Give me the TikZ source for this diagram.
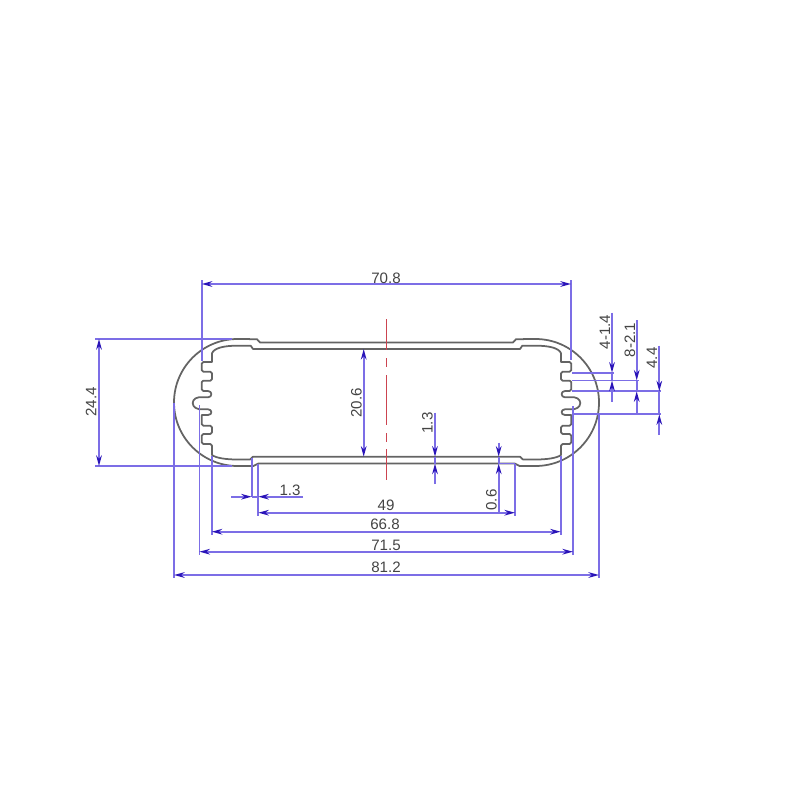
\documentclass[tikz,border=0pt]{standalone}
\usepackage{fontspec}
\setmainfont{Liberation Sans}
\usetikzlibrary{arrows.meta}
\definecolor{dimline}{HTML}{7C6EE6}
\definecolor{dimtip}{HTML}{2A14B8}
\definecolor{profile}{HTML}{646464}
\definecolor{dimtext}{HTML}{444444}
\definecolor{axisred}{HTML}{CC4450}
\tikzset{
  ext/.style={draw=dimline,line width=1pt},
  dimarrow/.style={draw=dimline,line width=1pt,
    {Stealth[length=6pt,width=3.2pt,color=dimtip]}-{Stealth[length=6pt,width=3.2pt,color=dimtip]}},
  tipdown/.style={draw=dimline,line width=1pt,-{Stealth[length=6pt,width=3.2pt,color=dimtip]}},
  prof/.style={draw=profile,line width=1pt,line join=round},
  axisline/.style={draw=axisred,line width=0.8pt},
  dimlabel/.style={text=dimtext,font=\fontsize{8.6}{10}\selectfont,inner sep=0pt},
  dimlabelv/.style={dimlabel,rotate=90}
}
\newcommand{\halfprofile}{%
  \draw[prof] (386.5,342.5) -- (260,342.5) -- (257,339.2) -- (237.5,339)
    .. controls (202.4,339) and (174,367.5) .. (174,402.5)
    .. controls (174,437.5) and (202.4,466) .. (237.5,466)
    -- (253.3,466) -- (258.3,463.5) -- (386.5,463.5);
  \draw[prof] (386.5,349) -- (253,349) -- (250.7,345.7) -- (237,345.7)
    .. controls (224,345.7) and (214,348) .. (212,353.3)
    -- (212,362)
    [rounded corners=0.9pt]
    -- (201.7,362) -- (201.7,371.7) -- (212,371.7) -- (212,380.7) -- (201.7,380.7) -- (201.7,391)
    [rounded corners=0pt]
    -- (208,391) .. controls (212.5,391) and (212.5,397.3) .. (208,397.3)
    -- (203,397.3)
    .. controls (197,396.5) and (192.7,399) .. (192.7,403)
    .. controls (192.7,407) and (197,410) .. (203,409.3)
    -- (208,409.3) .. controls (212.5,409.3) and (212.5,415) .. (208,415)
    -- (201.7,415)
    [rounded corners=0.9pt]
    -- (201.7,425.7) -- (212,425.7) -- (212,434) -- (201.7,434) -- (201.7,444) -- (212,444)
    [rounded corners=0pt]
    -- (212,455)
    .. controls (216,458) and (226,459.5) .. (237,459.5)
    -- (250,459.5) -- (253,456.7) -- (386.5,456.7);
}
\begin{document}
\begin{tikzpicture}[x=0.02cm,y=-0.02cm]
\useasboundingbox (0,0) rectangle (800,800);
% profile
\halfprofile
\begin{scope}[shift={(773,0)},xscale=-1]
\halfprofile
\end{scope}
% centre line
\draw[axisline] (386.7,319.3) -- (386.7,350);
\draw[axisline] (386.7,358) -- (386.7,366.7);
\draw[axisline] (386.7,375) -- (386.7,425);
\draw[axisline] (386.7,433) -- (386.7,441.7);
\draw[axisline] (386.7,449) -- (386.7,480);
% extension lines
\draw[ext] (201.7,280) -- (201.7,361);
\draw[ext] (571,280) -- (571,360);
\draw[ext] (199.4,405) -- (199.4,555);
\draw[ext] (573,406) -- (573,555);
\draw[ext] (211.7,456) -- (211.7,535);
\draw[ext] (560.7,456) -- (560.7,535);
\draw[ext] (174,403) -- (174,578);
\draw[ext] (599,414) -- (599,578);
\draw[ext] (258.3,463.5) -- (258.3,516);
\draw[ext] (515,463.5) -- (515,516);
\draw[ext] (251.7,458) -- (251.7,497);
\draw[ext] (95,339) -- (232,339);
\draw[ext] (95,466) -- (232,466);
\draw[ext] (572,372.7) -- (613.5,372.7);
\draw[ext] (572,380.5) -- (638.5,380.5);
\draw[ext] (572,391.3) -- (661,391.3);
\draw[ext] (573,414.3) -- (661,414.3);
\draw[ext] (498.7,463.5) -- (515,463.5);
% horizontal dimensions
\draw[dimarrow] (201.7,284) -- (571,284);
\draw[dimarrow] (258.3,512.7) -- (515,512.7);
\draw[dimarrow] (211.7,531.7) -- (560.7,531.7);
\draw[dimarrow] (199.4,551.7) -- (573,551.7);
\draw[dimarrow] (174,575) -- (599,575);
% vertical dimensions
\draw[dimarrow] (99,339) -- (99,466);
\draw[dimarrow] (363.7,349) -- (363.7,456.7);
% outside arrows
\coordinate (a1) at (231,496.7);
\coordinate (a2) at (251.7,496.7);
\coordinate (a3) at (303,496.7);
\coordinate (a4) at (258.3,496.7);
\draw[ext] (a2) -- (a4);
\draw[tipdown] (a1) -- (a2);
\draw[tipdown] (a3) -- (a4);
\coordinate (b1) at (435,412.7);
\coordinate (b2) at (435,456.7);
\coordinate (b3) at (435,484);
\coordinate (b4) at (435,463.5);
\draw[ext] (b2) -- (b4);
\draw[tipdown] (b1) -- (b2);
\draw[tipdown] (b3) -- (b4);
\coordinate (c1) at (498.7,442.7);
\coordinate (c2) at (498.7,456.7);
\coordinate (c3) at (498.7,512.7);
\coordinate (c4) at (498.7,463.5);
\draw[ext] (c2) -- (c4);
\draw[tipdown] (c1) -- (c2);
\draw[tipdown] (c3) -- (c4);
\coordinate (d1) at (612,312.7);
\coordinate (d2) at (612,372.7);
\coordinate (d3) at (612,401.7);
\coordinate (d4) at (612,380.5);
\draw[ext] (d2) -- (d4);
\draw[tipdown] (d1) -- (d2);
\draw[tipdown] (d3) -- (d4);
\coordinate (e1) at (636.7,320);
\coordinate (e2) at (636.7,380.5);
\coordinate (e3) at (636.7,412.7);
\coordinate (e4) at (636.7,391.3);
\draw[ext] (e2) -- (e4);
\draw[tipdown] (e1) -- (e2);
\draw[tipdown] (e3) -- (e4);
\coordinate (f1) at (659.3,345.7);
\coordinate (f2) at (659.3,391.3);
\coordinate (f3) at (659.3,435);
\coordinate (f4) at (659.3,414.3);
\draw[ext] (f2) -- (f4);
\draw[tipdown] (f1) -- (f2);
\draw[tipdown] (f3) -- (f4);
% labels
\node[dimlabel] (t708) at (386,278) {70.8};
\node[dimlabel] (t49) at (386,505) {49};
\node[dimlabel] (t668) at (385,524.5) {66.8};
\node[dimlabel] (t715) at (386,545) {71.5};
\node[dimlabel] (t812) at (386,567.5) {81.2};
\node[dimlabel] (t13a) at (290,490) {1.3};
\node[dimlabelv] (t244) at (91,402) {24.4};
\node[dimlabelv] (t206) at (356.5,403) {20.6};
\node[dimlabelv] (t13b) at (427.5,423) {1.3};
\node[dimlabelv] (t06) at (491.5,500) {0.6};
\node[dimlabelv] (t414) at (605,332) {4-1.4};
\node[dimlabelv] (t821) at (630,340) {8-2.1};
\node[dimlabelv] (t44) at (652,358) {4.4};
\end{tikzpicture}
\end{document}
